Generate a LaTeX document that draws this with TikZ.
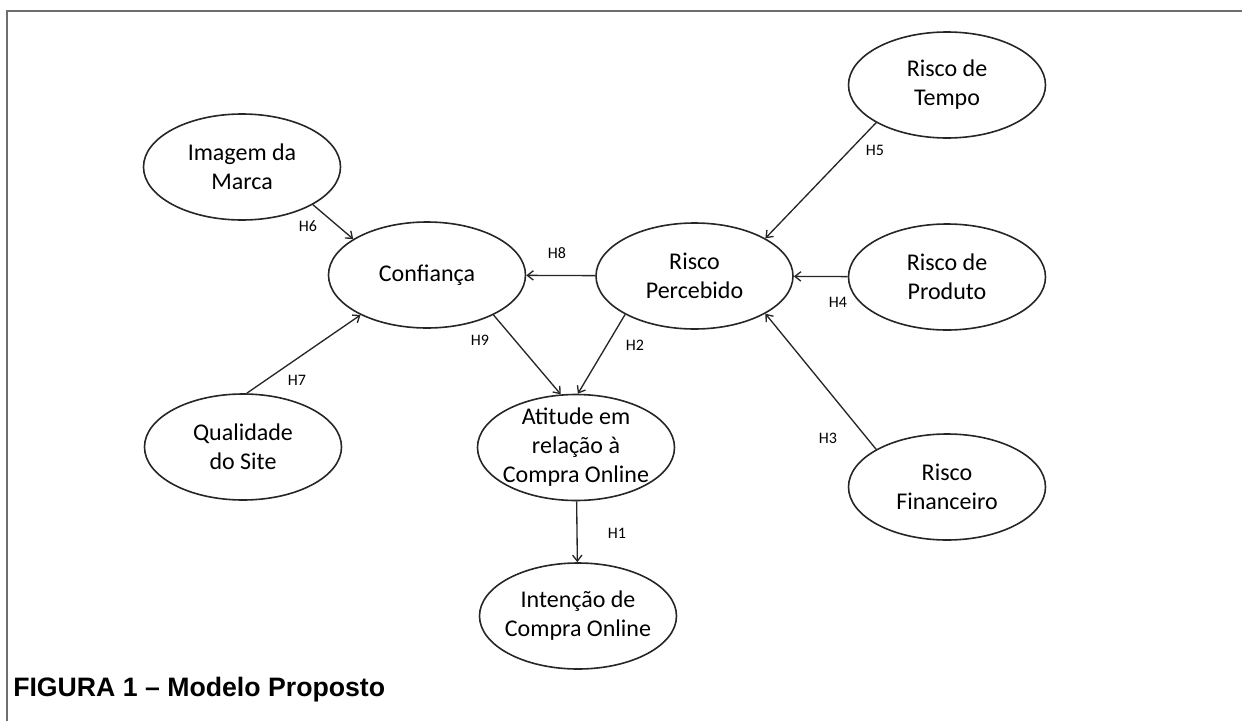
\documentclass[tikz,border=0pt]{standalone}
\usepackage{fontspec}
\setmainfont{Carlito}
\newfontfamily\titlefont{Liberation Sans}
\usetikzlibrary{arrows.meta, positioning, shapes.geometric}
\definecolor{moldura}{RGB}{110,110,110}

\begin{document}
\begin{tikzpicture}[x=0.75pt, y=-0.75pt,
    construto/.style={ellipse, draw=black!85, line width=1.2pt, minimum width=147.75pt, minimum height=79.5pt, inner sep=0pt},
    texto/.style={align=center, inner sep=0pt, font=\fontsize{18}{21.75}\selectfont},
    hip/.style={inner sep=0pt, font=\fontsize{12}{14}\selectfont},
    seta/.style={-{Straight Barb[length=4.5pt, width=7pt]}, line width=1pt, draw=black!85}]
    % Page area
    \useasboundingbox (0,0) rectangle (1242,721);
    % Frame
    \draw[moldura, line width=1.1pt] (1242,11) -- (7,11) -- (7,721);

    % Constructs
    \node[construto, label={[texto]center:{Imagem da\\Marca}}] (marca) at (242,167) {};
    \node[construto, label={[texto]center:{Risco de\\Tempo}}] (tempo) at (947,85) {};
    \node[construto, label={[texto]center:{Confiança}}] (confianca) at (427,275) {};
    \node[construto, label={[texto]center:{Risco\\Percebido}}] (percebido) at (694.5,276) {};
    \node[construto, label={[texto]center:{Risco de\\Produto}}] (produto) at (947,277) {};
    \node[construto, label={[texto]center:{Qualidade\\do Site}}] (qualidade) at (243,447) {};
    \node[construto, label={[texto]center:{Atitude em\\relação à\\Compra Online}}] (atitude) at (576,447.5) {};
    \node[construto, label={[texto]center:{Risco\\Financeiro}}] (financeiro) at (947,487) {};
    \node[construto, label={[texto]center:{Intenção de\\Compra Online}}] (intencao) at (578,616) {};

    % Hypotheses
    \draw[seta] (atitude) -- (intencao);
    \draw[seta] (percebido.209.6) -- (atitude.88);
    \draw[seta] (financeiro.152) -- (percebido.-28.6);
    \draw[seta] (produto) -- (percebido);
    \draw[seta] (tempo.208.5) -- (percebido.28.6);
    \draw[seta] (marca.-28.5) -- (confianca.154);
    \draw[seta] (qualidade.86) -- (confianca.211);
    \draw[seta] (percebido) -- (confianca);
    \draw[seta] (confianca.-31) -- (atitude.106.6);

    % Labels
    \node[hip] (h1) at (617,533) {H1};
    \node[hip] (h2) at (635,345) {H2};
    \node[hip] (h3) at (828,438) {H3};
    \node[hip] (h4) at (838,302) {H4};
    \node[hip] (h5) at (875,150) {H5};
    \node[hip] (h6) at (308,226) {H6};
    \node[hip] (h7) at (297,380) {H7};
    \node[hip] (h8) at (557,253) {H8};
    \node[hip] (h9) at (480,340) {H9};

    % Caption
    \node[anchor=west, inner sep=0pt, font=\titlefont\bfseries\fontsize{20}{24}\selectfont] (titulo) at (13,690) {FIGURA 1 – Modelo Proposto};
\end{tikzpicture}
\end{document}
